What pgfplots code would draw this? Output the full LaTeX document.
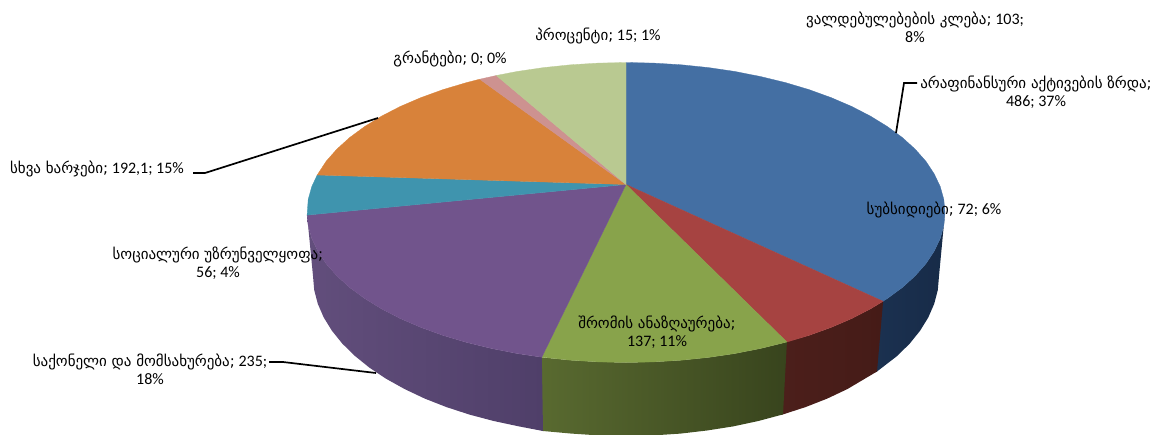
\documentclass[border=0pt]{standalone}
\usepackage{pgfplots}
\pgfplotsset{compat=1.18}
\usepackage{fontspec}
\setmainfont{Carlito}
\newfontfamily\geofont{DejaVu Sans}
\newcommand\g[1]{{\geofont\fontsize{15}{18}\selectfont #1}}
\tikzset{lab/.style={font=\fontsize{16}{18}\selectfont, text=black, align=center, inner sep=0pt}}
\definecolor{tBlue}{HTML}{446FA3}
\definecolor{tRed}{HTML}{A64341}
\definecolor{tGreen}{HTML}{88A34B}
\definecolor{tPurple}{HTML}{71548C}
\definecolor{tTeal}{HTML}{3F94AE}
\definecolor{tOrange}{HTML}{D8823A}
\definecolor{tPink}{HTML}{CD9290}
\definecolor{tLight}{HTML}{B9C991}
\definecolor{sB1}{HTML}{1B3150}
\definecolor{sB2}{HTML}{172B48}
\definecolor{sR1}{HTML}{4C1F1B}
\definecolor{sR2}{HTML}{451B17}
\definecolor{sG1}{HTML}{596A30}
\definecolor{sG2}{HTML}{38441D}
\definecolor{sP1}{HTML}{624E7C}
\definecolor{sP2}{HTML}{4F3F69}
\begin{document}
\begin{tikzpicture}
\begin{axis}[
  at={(0,0)}, anchor=south west,
  hide axis, scale only axis, width=1156pt, height=434pt,
  xmin=0, xmax=1156, ymin=0, ymax=434, y dir=reverse,
]
% side walls
\addplot[draw=none, left color=sB1, right color=sB2] coordinates {
 (881.5,301.3)(887.3,298.5)(902.3,287.5)(915.1,275.9)(925.8,263.8)(934.1,251.3)(940.2,238.5)(943.8,225.6)(945,212.5)
 (939,276)(937.8,290)(934.2,303.8)(928.3,317.4)(920.1,330.7)(909.7,343.6)(897.1,356)(877,371.5)(875.5,372.3)} --cycle;
\addplot[draw=none, left color=sR1, right color=sR2] coordinates {
 (785.4,342)(809,335.4)(831.1,327.4)(851.6,318.6)(870.4,308.9)(883.1,301.3)
 (877,371.5)(847.3,389.1)(827.2,398.6)(805.5,407.1)(783,414.4)(781.5,414.8)} --cycle;
\addplot[draw=none, left color=sG1, right color=sG2] coordinates {
 (540.3,357.2)(570.6,360.2)(598.2,361.9)(626,362.5)(653.8,361.9)(681.4,360.2)(708.6,357.4)(735.1,353.5)(760.8,348.4)(786.9,342)
 (783,414.4)(758.3,421)(733.1,426.4)(707,430.5)(680.4,433.6)(653.3,435.4)(626,436)(598.7,435.4)(571.6,433.6)(543,431)(541.5,430.8)} --cycle;
\addplot[draw=none, left color=sP1, right color=sP2] coordinates {
 (307.1,215.1)(308.2,225.6)(311.8,238.5)(317.9,251.3)(326.2,263.8)(336.9,275.9)(349.7,287.5)(364.7,298.5)(381.6,308.9)(400.4,318.6)(420.9,327.4)(443,335.4)(466.5,342.4)(491.2,348.4)(516.9,353.5)(541.8,357.2)
 (543,431)(519,426.4)(493.7,421)(469.5,414.6)(446.5,407.1)(424.8,398.6)(404.7,389.1)(386.2,378.8)(369.6,367.8)(355,356)(342.3,343.6)(331.9,330.7)(323.7,317.4)(317.8,303.8)(314.2,290)(313,276)} --cycle;
% top surface
\addplot[fill=tBlue, draw=tBlue, line width=0.3pt] coordinates {
 (626,184.5)(626,62.5)(653.8,63.1)(681.4,64.8)(708.6,67.6)(735.1,71.5)(760.8,76.6)(785.5,82.6)(809,89.6)(831.1,97.6)(851.6,106.4)(870.4,116.1)(887.3,126.5)(902.3,137.5)(915.1,149.1)(925.8,161.2)(934.1,173.7)(940.2,186.5)(943.8,199.4)(945,212.5)(943.8,225.6)(940.2,238.5)(934.1,251.3)(925.8,263.8)(915.1,275.9)(902.3,287.5)(887.3,298.5)(883.1,301.3)} --cycle;
\addplot[fill=tRed, draw=tRed, line width=0.3pt] coordinates {
 (626,184.5)(883.1,301.3)(870.4,308.9)(851.6,318.6)(831.1,327.4)(809,335.4)(786.9,342)} --cycle;
\addplot[fill=tGreen, draw=tGreen, line width=0.3pt] coordinates {
 (626,184.5)(786.9,342)(760.8,348.4)(735.1,353.5)(708.6,357.4)(681.4,360.2)(653.8,361.9)(626,362.5)(598.2,361.9)(570.6,360.2)(541.8,357.2)} --cycle;
\addplot[fill=tPurple, draw=tPurple, line width=0.3pt] coordinates {
 (626,184.5)(541.8,357.2)(516.9,353.5)(491.2,348.4)(466.5,342.4)(443,335.4)(420.9,327.4)(400.4,318.6)(381.6,308.9)(364.7,298.5)(349.7,287.5)(336.9,275.9)(326.2,263.8)(317.9,251.3)(311.8,238.5)(308.2,225.6)(307.1,215.1)} --cycle;
\addplot[fill=tTeal, draw=tTeal, line width=0.3pt] coordinates {
 (626,184.5)(307.1,215.1)(308.2,199.4)(311.8,186.5)(317.2,175)} --cycle;
\addplot[fill=tOrange, draw=tOrange, line width=0.3pt] coordinates {
 (626,184.5)(317.2,175)(326.2,161.2)(336.9,149.1)(349.7,137.5)(364.7,126.5)(381.6,116.1)(400.4,106.4)(420.9,97.6)(443,89.6)(466.5,82.6)(479.7,79.2)} --cycle;
\addplot[fill=tPink, draw=tPink, line width=0.3pt] coordinates {
 (626,184.5)(479.7,79.2)(496.3,75.5)} --cycle;
\addplot[fill=tLight, draw=tLight, line width=0.3pt] coordinates {
 (626,184.5)(496.3,75.5)(516.9,71.5)(543.4,67.6)(570.6,64.8)(598.2,63.1)(626,62.5)} --cycle;
% leader lines
\addplot[black, line width=1.7pt] coordinates {(193,173)(205,173)(378,118)};
\addplot[black, line width=1.7pt] coordinates {(917,83)(904,83)(896,133)};
\addplot[black, line width=1.7pt] coordinates {(269,362)(283,362)(376,373)};
% labels
\node[lab] at (axis cs:915,27) {\g{ვალდებულებების კლება;} 103;\\8\%};
\node[lab] at (axis cs:1036,92) {\g{არაფინანსური აქტივების ზრდა;}\\486; 37\%};
\node[lab] at (axis cs:934,210) {\g{სუბსიდიები;} 72; 6\%};
\node[lab] at (axis cs:450,59) {\g{გრანტები;} 0; 0\%};
\node[lab] at (axis cs:598,36) {\g{პროცენტი;} 15; 1\%};
\node[lab] at (axis cs:97,169) {\g{სხვა ხარჯები;} 192,1; 15\%};
\node[lab] at (axis cs:218,263) {\g{სოციალური უზრუნველყოფა;}\\56; 4\%};
\node[lab] at (axis cs:150,369) {\g{საქონელი და მომსახურება;} 235;\\18\%};
\node[lab] at (axis cs:657,332) {\g{შრომის ანაზღაურება;}\\137; 11\%};
\end{axis}
\pgfresetboundingbox
\useasboundingbox (0,0) rectangle (1156pt,434pt);
\end{tikzpicture}
\end{document}
